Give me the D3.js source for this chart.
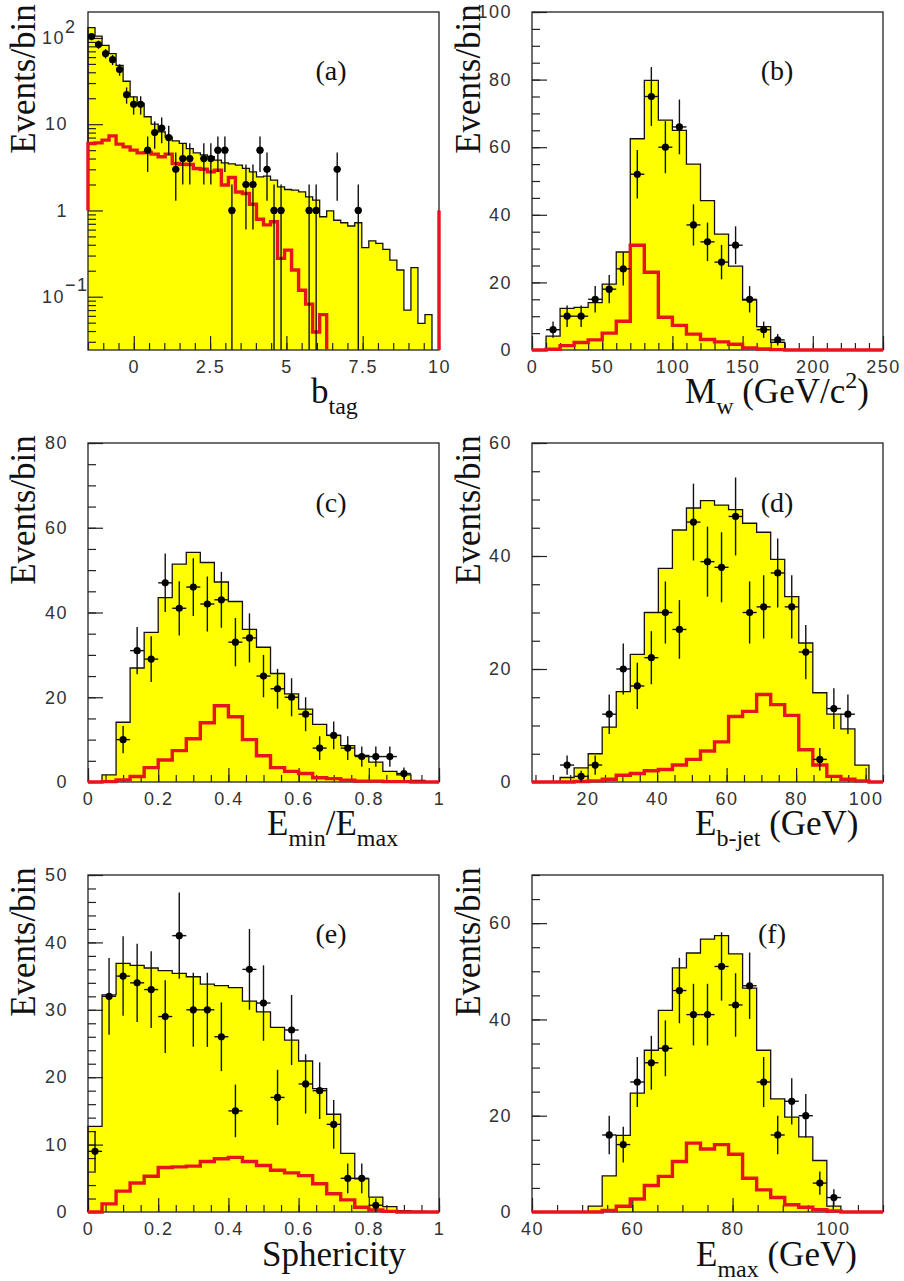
<!DOCTYPE html><meta charset="utf-8">
<style>
*{margin:0}
body{background:#fff}
svg{display:block}
text{font-family:"Liberation Serif",serif;fill:#111}
.tick text{font-family:"Liberation Sans",sans-serif;font-size:18px;letter-spacing:1.5px;fill:#333}
.tick line,.domain{stroke:#222;stroke-width:1.2px}
.domain{display:none}
</style>
<svg width="904" height="1281"></svg>
<script src="https://d3js.org/d3.v7.min.js"></script>
<script>
// total expectation (yellow), signal (red), data and errors, bin by bin
const aTotal = [132,105,82,66,48,31.5,20.7,17.4,12.2,10,8.15,7.1,6.4,6,5.2,4.65,4.4,4.2,3.83,3.56,3.47,3.35,3.07,2.8,2.45,2.5,2.25,1.88,1.75,1.72,1.64,1.44,1.32,.845,.99,.77,.72,.66,.72,.37,.445,.415,.353,.266,.204,.07,.217,.049,.062,0];
const aSignal = [5.97,6.08,6.53,7.33,5.87,5.46,5,4.65,4.7,4.5,4.19,4.5,3.5,3.44,3.41,3.07,3.01,2.8,2.93,1.97,2.41,1.64,1.57,1.18,.79,.68,.74,.278,.347,.204,.119,.082,.039,.062,0,0,0,0,0,0,0,0,0,0,0,0,0,0,0,0];
const aData = [104,84,66,56,43,22,17,17,5,8,9,7,3,4,4,null,4,4,5,5,1,null,2,2,5,3,1,1,null,null,null,1,1,null,null,3,null,null,1,null,null,null,null,null,null,null,null,null,null,null];
const aErr = [10.2,9.2,8.1,7.5,6.6,4.7,4.1,4.1,2.2,2.8,3,2.6,1.7,2,2,null,2,2,2.2,2.2,1,null,1.4,1.4,2.2,1.7,1,1,null,null,null,1,1,null,null,1.7,null,null,1,null,null,null,null,null,null,null,null,null,null,null];

const bTotal = [0,4.1,12.3,12.6,14,19.5,29,62.5,79.8,68,65,55,44.2,34.3,24.8,14.8,6.9,2.3,0,0,0,0,0,0,0];
const bSignal = [0,.2,1.3,2.2,3,5,8.5,31,23,9.7,7.3,4.7,3.1,2.4,1.7,.6,.3,.1,0,0,0,0,0,0,0];
const bData = [null,6,10,10,15,18,24,52,75,60,66,37,32,26,31,15,6,3,null,null,null,null,null,null,null];
const bErr = [null,2.4,3.2,3.2,3.9,4.2,4.9,7.2,8.7,7.7,8.1,6.1,5.7,5.1,5.6,3.9,2.4,1.7,null,null,null,null,null,null,null];

const cTotal = [0,1.7,14.1,26.9,35.3,43.5,51.4,54.2,51.8,47.2,42.6,36,31.8,25.6,20.8,17.2,13.6,11,8.6,6.3,4.7,2.5,1.7,.4,.1];
const cSignal = [0,.1,.5,1.3,3.4,5.2,7.4,10.2,14,18,15.4,10,6.2,3.4,2.5,2,1,.8,.4,.2,.2,.1,.1,0,0];
const cData = [null,null,10,31,29,47,41,46,42,43,33,34,25,22,20,16,8,11,8,6,6,6,2,null,null];
const cErr = [null,null,3.2,5.6,5.4,6.9,6.4,6.8,6.5,6.6,5.7,5.8,5,4.7,4.5,4,2.8,3.3,2.8,2.4,2.4,2.4,1.4,null,null];

const dTotal = [0,0,.8,2.5,5,9.7,16,22.6,30,37.8,44.6,48.5,49.8,49,48.2,45.8,44.2,39.4,32.8,24.6,15.8,12,9.4,3,0];
const dSignal = [0,0,0,.1,.2,.5,1.2,1.5,2,2.2,3,4,5.5,7.1,11.6,12.5,15.5,13.7,11.8,5.7,3,1,.5,.2,0];
const dData = [null,null,3,1,3,12,20,17,22,30,27,46,39,38,47,30,31,37,31,23,4,13,12,null,null];
const dErr = [null,null,1.7,1,1.7,3.5,4.5,4.1,4.7,5.5,5.2,6.8,6.2,6.2,6.9,5.5,5.6,6.1,5.6,4.8,2,3.6,3.5,null,null];

const eTotal = [12.7,32.2,36.9,36.6,36.2,35.8,35.4,34.9,33.8,33.6,33.3,31.3,29.7,27.4,25.5,22.4,18.3,14.5,8.7,4.9,2.2,.8,.2,.1,0];
const eSignal = [0,1.2,3.1,4.3,5.3,6.6,6.7,6.8,7.5,7.9,8.1,7.5,6.9,6.2,5.8,5.4,4.2,2.7,1.8,.7,.3,.1,0,0,0];
const eData = [9,32,35,34,33,29,41,30,30,26,15,36,31,17,27,19,18,13,5,5,1,null,null,null,null];
const eErr = [3,5.7,5.9,5.8,5.7,5.4,6.4,5.5,5.5,5.1,3.9,6,5.6,4.1,5.2,4.4,4.2,3.6,2.2,2.2,1,null,null,null,null];

const fTotal = [0,0,0,0,1.2,7.5,15.9,24.7,33.6,41.9,50.7,53.8,56.7,57.4,53.6,46.5,33.6,23.5,19.7,15.6,10.7,1.2,0,0,0];
const fSignal = [0,0,0,0,0,.3,1.2,2.7,5.5,7.4,10.5,14.3,13.1,14,12,7,4.6,3,1.5,1,.5,.2,0,0,0];
const fData = [null,null,null,null,null,16,14,27,31,34,46,41,41,51,43,47,27,16,23,20,6,3,null,null,null];
const fErr = [null,null,null,null,null,4,3.7,5.2,5.6,5.8,6.8,6.4,6.4,7.1,6.6,6.9,5.2,4,4.8,4.5,2.4,1.7,null,null,null];

// tick labels
const aXTicks = [0,2.5,5,7.5,10], bXTicks = [0,50,100,150,200,250];
const cXTicks = [0,.2,.4,.6,.8,1], dXTicks = [20,40,60,80,100], fXTicks = [40,60,80,100];
const aYLabels = [[100,"10","2"],[10,"10",""],[1,"1",""],[.1,"10","\u22121"]];

const panels = [
 {tag:"(a)",col:0,row:0,xDom:[-1.5,10],yDom:[.0241,200],log:true,total:aTotal,signal:aSignal,data:aData,err:aErr,
  xMajor:aXTicks,xMinor:.5,yMajor:[.1,1,10,100],tagX:243,tagY:68,
  title:[["b",""],["tag","sub"]],titleX:311},
 {tag:"(b)",col:1,row:0,xDom:[0,250],yDom:[0,100],total:bTotal,signal:bSignal,data:bData,err:bErr,
  xMajor:bXTicks,xMinor:10,yMajor:[0,20,40,60,80,100],yMinor:5,tagX:245,tagY:68,
  title:[["M",""],["w","sub"],[" (GeV/c",""],["2","sup"],[")",""]],titleX:685},
 {tag:"(c)",col:0,row:1,xDom:[0,1],yDom:[0,80],total:cTotal,signal:cSignal,data:cData,err:cErr,
  xMajor:cXTicks,xMinor:.05,yMajor:[0,20,40,60,80],yMinor:5,tagX:243,tagY:69,
  title:[["E",""],["min","sub"],["/E",""],["max","sub"]],titleX:267},
 {tag:"(d)",col:1,row:1,xDom:[4,105],yDom:[0,60],total:dTotal,signal:dSignal,data:dData,err:dErr,
  xMajor:dXTicks,xMinor:5,yMajor:[0,20,40,60],yMinor:5,tagX:245,tagY:69,
  title:[["E",""],["b-jet","sub"],[" (GeV)",""]],titleX:695},
 {tag:"(e)",col:0,row:2,xDom:[0,1],yDom:[0,50],total:eTotal,signal:eSignal,data:eData,err:eErr,
  xMajor:cXTicks,xMinor:.05,yMajor:[0,10,20,30,40,50],yMinor:2,tagX:243,tagY:68,
  title:[["Sphericity",""]],titleX:262},
 {tag:"(f)",col:1,row:2,xDom:[40,110],yDom:[0,70],total:fTotal,signal:fSignal,data:fData,err:fErr,
  xMajor:fXTicks,xMinor:5,yMajor:[0,20,40,60],yMinor:5,tagX:240,tagY:68,
  title:[["E",""],["max","sub"],[" (GeV)",""]],titleX:696}
];

const svg = d3.select("svg");
const colX = [88,532], rowTop = [12,443,875], rowBase = [350,782,1212];
const w = 351, baselines = [403,835,1266];

// superscript / subscript runs inside one text node
function runs(sel, list, big, small){
  let cur = 0;
  list.forEach(([s,kind])=>{
    const shift = kind=="sub" ? 11 : kind=="sup" ? -15 : 0;
    sel.append("tspan").attr("dy",shift-cur)
       .attr("font-size",kind ? small : big).text(s);
    cur = shift;
  });
}

panels.forEach((p,i)=>{
  const top = rowTop[p.row], h = rowBase[p.row]-top, left = colX[p.col];
  const g = svg.append("g").attr("transform",`translate(${left},${top})`);
  const x = d3.scaleLinear().domain(p.xDom).range([0,w]);
  const y = (p.log ? d3.scaleLog() : d3.scaleLinear()).domain(p.yDom).range([h,0]);
  // empty bins on the log panel fall below the frame
  const yv = v => p.log ? (v<=p.yDom[0] ? h+6 : y(v)) : y(v);
  const n = p.total.length, bw = (p.xDom[1]-p.xDom[0])/n;
  const edge = k => p.xDom[0]+k*bw;
  const base = p.log ? 1 : 0;   // hist outline starts and ends on this level

  const steps = vals => {
    const pts = [[edge(0),base]];
    vals.forEach((v,k)=>pts.push([edge(k),v],[edge(k+1),v]));
    pts.push([edge(n),base]);
    return pts;
  };
  const line = d3.line().x(d=>x(d[0])).y(d=>yv(d[1]));
  const area = d3.area().x(d=>x(d[0])).y0(h).y1(d=>Math.min(yv(d[1]),h));

  const clip = "clip"+i;
  g.append("clipPath").attr("id",clip).append("rect")
   .attr("x",-2).attr("y",-2).attr("width",w+4).attr("height",h+(p.log ? 2 : 4));

  g.append("path").attr("fill","#ffff00")
       .attr("d",area(p.total.flatMap((v,k)=>[[edge(k),v],[edge(k+1),v]])));

  // axes
  const xAll = d3.range(Math.ceil(p.xDom[0]/p.xMinor),Math.floor(p.xDom[1]/p.xMinor+1e-6)+1).map(k=>k*p.xMinor);
  const xAxis = g.append("g").attr("transform",`translate(0,${h})`);
  xAxis.append("g").call(d3.axisBottom(x).tickValues(xAll).tickSize(-7).tickFormat(""));
  xAxis.append("g").call(d3.axisBottom(x).tickValues(p.xMajor).tickSize(-14).tickPadding(10).tickFormat(d=>+d.toFixed(2)));

  let yAll;
  if(p.log){
    yAll = [];
    [.01,.1,1,10,100].forEach(d=>d3.range(2,10).forEach(m=>{
      const v = d*m; if(v>p.yDom[0] && v<p.yDom[1]) yAll.push(v);
    }));
  } else {
    yAll = d3.range(p.yDom[0],p.yDom[1]+1e-6,p.yMinor);
  }
  g.append("g").call(d3.axisLeft(y).tickValues(yAll).tickSize(-8).tickFormat(""));
  g.append("g").call(d3.axisLeft(y).tickValues(p.yMajor).tickSize(-15).tickPadding(20)
      .tickFormat(p.log ? "" : d=>d));
  if(p.log){
    aYLabels.forEach(([v,txt,ex])=>{
      const t = g.append("g").attr("class","tick").attr("transform",`translate(0,${y(v)})`);
      t.append("text").attr("x",ex ? -23 : -20).attr("dy",".34em").attr("text-anchor","end").text(txt);
      if(ex) t.append("text").attr("x",-23).attr("dy","-.3em").attr("text-anchor","start").text(ex);
    });
  }

  g.append("rect").attr("width",w).attr("height",h)
   .attr("fill","none").attr("stroke","#222").attr("stroke-width",1.3);

  // histograms
  const marks = g.append("g").attr("clip-path",`url(#${clip})`);
  marks.append("path").attr("fill","none").attr("stroke","#111").attr("stroke-width",1.3)
       .attr("d",line(steps(p.total)));
  marks.append("path").attr("fill","none").attr("stroke","#e8141c").attr("stroke-width",3.4)
       .attr("d",line(steps(p.signal)));

  // data points with errors
  const pts = p.data.map((v,k)=>({c:edge(k)+bw/2,k,v,e:p.err[k]})).filter(d=>d.v!==null);
  const dots = g.append("g").attr("clip-path",`url(#${clip})`).selectAll("g").data(pts).join("g");
  dots.append("line").attr("stroke","#111").attr("stroke-width",1.4)
      .attr("x1",d=>x(d.c)).attr("x2",d=>x(d.c))
      .attr("y1",d=>yv(d.v+d.e)).attr("y2",d=>d.v-d.e<=0 ? h : yv(d.v-d.e));
  dots.append("line").attr("stroke","#111").attr("stroke-width",1.4)
      .attr("x1",d=>x(d.c-bw/2)).attr("x2",d=>x(d.c+bw/2))
      .attr("y1",d=>yv(d.v)).attr("y2",d=>yv(d.v));
  dots.append("circle").attr("fill","#000").attr("r",3.6)
      .attr("cx",d=>x(d.c)).attr("cy",d=>yv(d.v));

  g.append("text").attr("x",p.tagX).attr("y",p.tagY).attr("text-anchor","middle")
   .attr("font-size",28).text(p.tag);

  g.append("text").attr("transform",`translate(${(p.col?480:35)-left},67) rotate(-90)`)
   .attr("text-anchor","middle").attr("font-size",35).text("Events/bin");

  svg.append("text").attr("x",p.titleX).attr("y",baselines[p.row])
     .call(runs,p.title,35,24);
});
</script>
